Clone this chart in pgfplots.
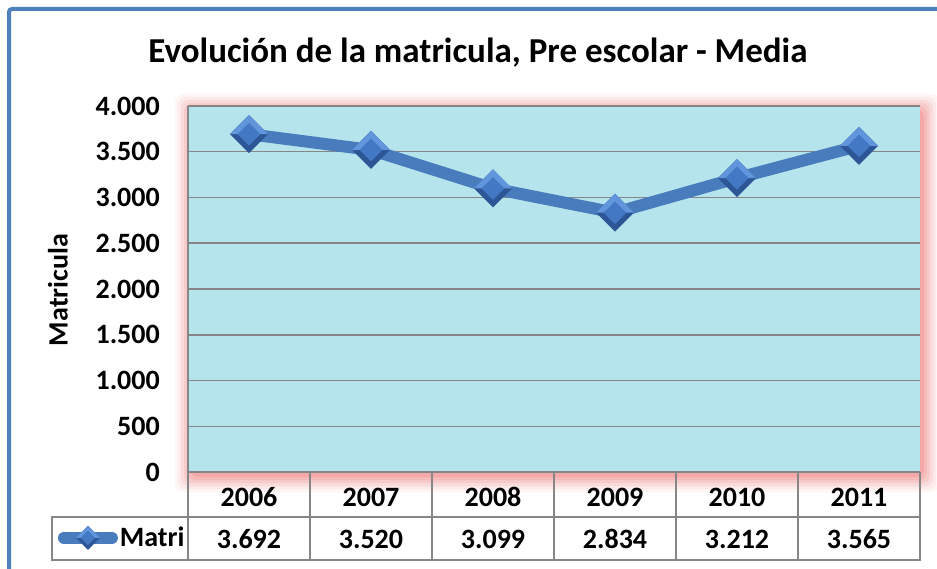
\documentclass[border=0pt]{standalone}
\usepackage{pgfplots}
\pgfplotsset{compat=1.18}
\usepackage{fontspec}
\setmainfont{Carlito}
\definecolor{framec}{RGB}{79,129,189}
\definecolor{linec}{RGB}{72,124,189}
\definecolor{mkdark}{RGB}{44,86,150}
\definecolor{mklight}{RGB}{98,150,220}
\definecolor{mkmid}{RGB}{66,120,196}
\definecolor{bgc}{RGB}{182,228,236}
\definecolor{gridc}{RGB}{134,134,134}
\definecolor{glowc}{RGB}{238,100,100}
\pgfdeclareplotmark{bdiamond}{%
  \pgfpathmoveto{\pgfqpoint{0pt}{\pgfplotmarksize}}%
  \pgfpathlineto{\pgfqpoint{\pgfplotmarksize}{0pt}}%
  \pgfpathlineto{\pgfqpoint{0pt}{-\pgfplotmarksize}}%
  \pgfpathlineto{\pgfqpoint{-\pgfplotmarksize}{0pt}}%
  \pgfpathclose
  \pgfsetfillcolor{mkdark}\pgfusepathqfill
  \pgfpathmoveto{\pgfqpoint{0pt}{\pgfplotmarksize}}%
  \pgfpathlineto{\pgfqpoint{\pgfplotmarksize}{0pt}}%
  \pgfpathlineto{\pgfqpoint{-\pgfplotmarksize}{0pt}}%
  \pgfpathclose
  \pgfsetfillcolor{mklight}\pgfusepathqfill
  \pgfpathmoveto{\pgfqpoint{0pt}{0.6\pgfplotmarksize}}%
  \pgfpathlineto{\pgfqpoint{0.6\pgfplotmarksize}{0pt}}%
  \pgfpathlineto{\pgfqpoint{0pt}{-0.6\pgfplotmarksize}}%
  \pgfpathlineto{\pgfqpoint{-0.6\pgfplotmarksize}{0pt}}%
  \pgfpathclose
  \pgfsetfillcolor{mkmid}\pgfusepathqfill
}
\begin{document}
\begin{tikzpicture}[x=1pt,y=1pt]
\useasboundingbox (0,0) rectangle (937,568);
\fill[white] (0,0) rectangle (937,568);
\draw[framec, line width=4pt, rounded corners=3pt] (9,-10) -- (9,559) -- (950,559);
% glow around plot area
\foreach \d/\o in {16/0.06,13/0.08,10/0.10,7/0.13,4/0.16,1/0.2}
  \fill[glowc, opacity=\o, rounded corners=8pt] (188-\d+3, 96-\d-4) rectangle (920+\d+3, 462+\d-4);
\node[font=\fontsize{35}{37}\selectfont\bfseries, anchor=base] at (478,505) {Evolución de la matricula, Pre escolar - Media};
\node[font=\fontsize{28}{30}\selectfont\bfseries, rotate=90] at (58,278) {Matricula};
\begin{axis}[
  at={(188pt,96pt)}, anchor=south west,
  scale only axis, width=732pt, height=366pt,
  xmin=-0.5, xmax=5.5, ymin=0, ymax=4000,
  ytick={0,500,...,4000},
  xtick={0,1,2,3,4,5},
  xticklabels={2006,2007,2008,2009,2010,2011},
  major tick length=0pt,
  ymajorgrids,
  grid style={gridc, line width=1.5pt},
  axis lines*=left,
  axis line style={gridc, line width=1.5pt},
  axis background/.style={fill=bgc},
  tick label style={font=\fontsize{28}{30}\selectfont\bfseries},
  yticklabel style={anchor=east, inner sep=0pt, xshift=-28pt},
  xticklabel style={anchor=center, inner sep=0pt, yshift=-25pt},
  /pgf/number format/.cd, 1000 sep={.}, assume math mode=true,
  /pgfplots/.cd,
  legend style={at={(-0.178,-0.18)}, anchor=west, draw=none, fill=none,
    font=\fontsize{28}{30}\selectfont\bfseries, inner sep=0pt},
  legend image code/.code={%
    \draw[linec, line width=12pt, line cap=round] (0pt,0pt) -- (48pt,0pt);
    \draw[mark=bdiamond, mark size=12pt] plot coordinates {(24pt,0pt)};
  },
]
\addplot[linec, line width=12pt, line join=round, mark=bdiamond, mark size=19pt]
  coordinates {(0,3692) (1,3520) (2,3099) (3,2834) (4,3212) (5,3565)};
\addlegendentry{Matri}
\end{axis}
% data table lines
\draw[gridc, line width=1.5pt] (52,8) rectangle (920,51);
\foreach \k in {0,...,6} \draw[gridc, line width=1.5pt] (188+122*\k,96) -- (188+122*\k,8);
\foreach \v [count=\i from 0] in {3.692,3.520,3.099,2.834,3.212,3.565}
  \node[font=\fontsize{28}{30}\selectfont\bfseries, anchor=base] at (249+122*\i,20) {\v};
\end{tikzpicture}
\end{document}
